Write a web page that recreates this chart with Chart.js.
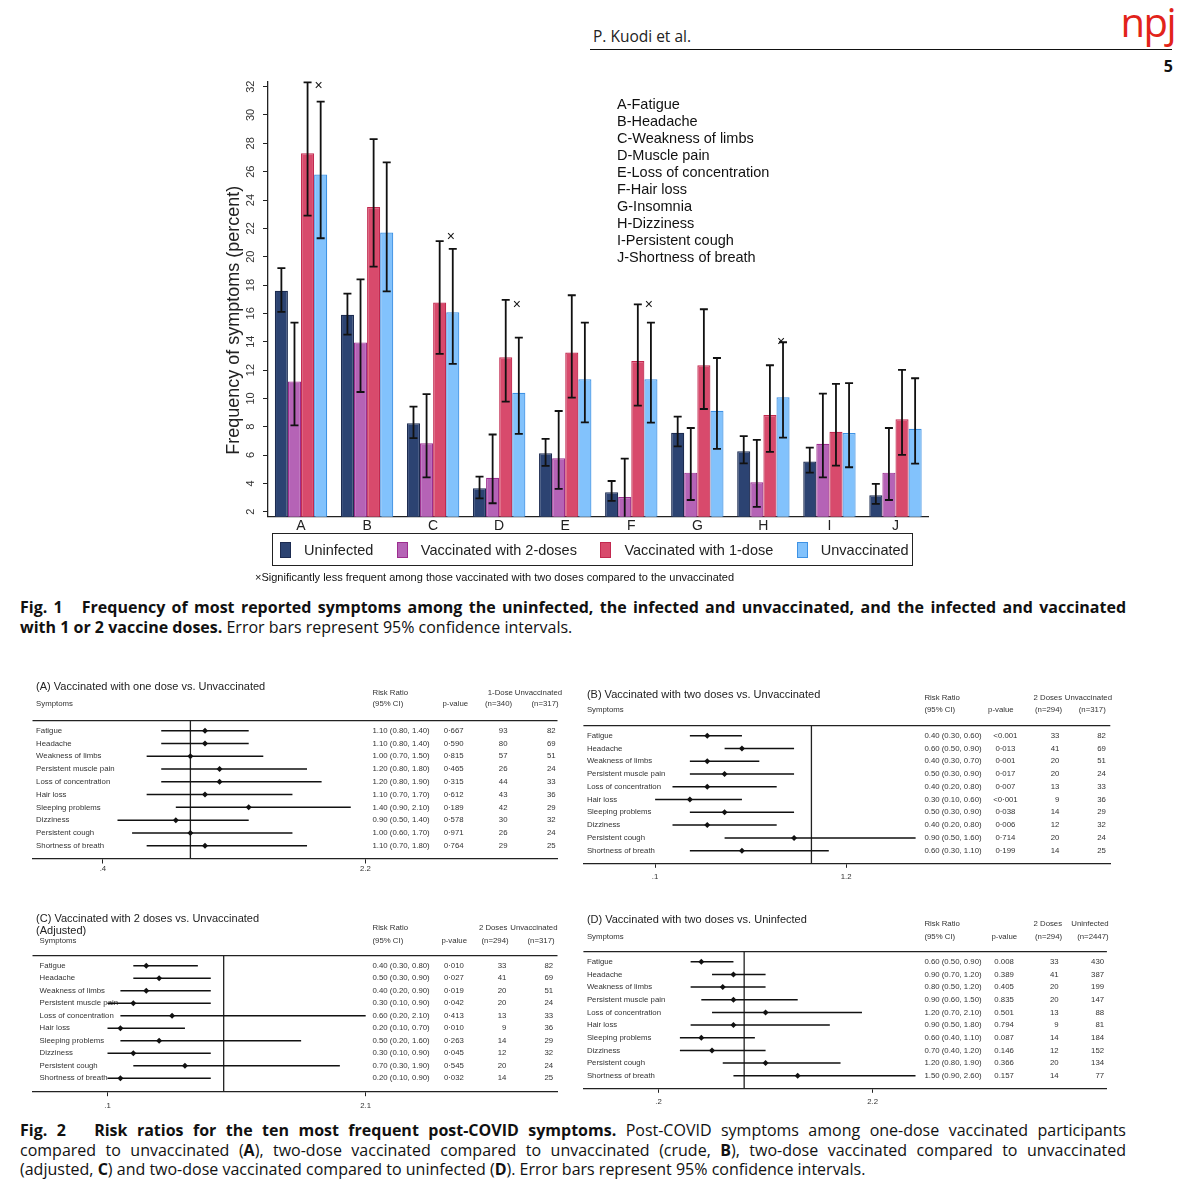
<!DOCTYPE html>
<html>
<head>
<meta charset="utf-8">
<title>Post-COVID symptoms by vaccination status</title>
<script src="https://cdn.jsdelivr.net/npm/chart.js@4.4.1/dist/chart.umd.min.js"></script>
<style>
  html, body { margin: 0; padding: 0; background: #fff; }
  body { position: relative; width: 1200px; height: 1194px; overflow: hidden;
         font-family: "Liberation Sans", Arial, sans-serif; color: #111; }
  .abs, canvas { position: absolute; }
  .running { left: 593px; top: 25px; font: 15.5px "Open Sans", sans-serif; color: #222; }
  .rule { left: 590px; top: 49px; width: 582px; border-top: 1.6px solid #111; }
  .page { left: 1100px; width: 73px; text-align: right; top: 55px; font: bold 16px "Open Sans", sans-serif; }
  .npj { left: 1080px; width: 95px; text-align: right; top: -6px; font: 40px "Open Sans", sans-serif; color: #e2231a; letter-spacing: -1.5px; }
  .key { left: 617px; top: 95.5px; font-size: 14.5px; line-height: 17px; color: #111; }
  .legend { left: 272px; top: 533px; width: 632px; height: 31px; padding-left: 7px; border: 1.3px solid #222;
            display: flex; align-items: center; font-size: 14.5px; color: #222; }
  .legend .item { display: flex; align-items: center; margin-right: 23.5px; white-space: nowrap; }
  .legend .sw { display: inline-block; width: 9px; height: 14px; border: 1px solid; margin-right: 13px; }
  .note { left: 255px; top: 571px; font-size: 11px; color: #111; white-space: nowrap; }
  .cap { left: 20px; width: 1106px; font-family: "Open Sans", sans-serif; font-size: 16px; color: #111; }
  .cap div { height: 19.5px; line-height: 19.5px; white-space: nowrap; text-align: justify; text-align-last: justify; }
  .cap div.last { text-align-last: left; }
  .cap b { font-weight: 700; }
</style>
</head>
<body>
<div class="abs running">P. Kuodi et al.</div>
<div class="abs rule"></div>
<div class="abs npj">npj</div>
<div class="abs page">5</div>

<canvas id="fig1"></canvas>
<div class="abs key" id="key"></div>
<div class="abs legend" id="legend"></div>
<div class="abs note">×Significantly less frequent among those vaccinated with two doses compared to the unvaccinated</div>

<div class="abs cap" style="top:598px">
  <div><b>Fig. 1&nbsp;&nbsp; Frequency of most reported symptoms among the uninfected, the infected and unvaccinated, and the infected and vaccinated</b></div>
  <div class="last"><b>with 1 or 2 vaccine doses.</b> Error bars represent 95% confidence intervals.</div>
</div>

<canvas id="fa"></canvas>
<canvas id="fb"></canvas>
<canvas id="fc"></canvas>
<canvas id="fd"></canvas>

<div class="abs cap" style="top:1121px">
  <div><b>Fig. 2&nbsp;&nbsp; Risk ratios for the ten most frequent post-COVID symptoms.</b> Post-COVID symptoms among one-dose vaccinated participants</div>
  <div>compared to unvaccinated (<b>A</b>), two-dose vaccinated compared to unvaccinated (crude, <b>B</b>), two-dose vaccinated compared to unvaccinated</div>
  <div class="last">(adjusted, <b>C</b>) and two-dose vaccinated compared to uninfected (<b>D</b>). Error bars represent 95% confidence intervals.</div>
</div>

<script>
// ---------- Fig. 1 data (percent, with 95% CI) ----------
const groups = ['A', 'B', 'C', 'D', 'E', 'F', 'G', 'H', 'I', 'J'];
const keyNames = ['Fatigue', 'Headache', 'Weakness of limbs', 'Muscle pain', 'Loss of concentration',
                  'Hair loss', 'Insomnia', 'Dizziness', 'Persistent cough', 'Shortness of breath'];
const seriesNames = ['Uninfected', 'Vaccinated with 2-doses', 'Vaccinated with 1-dose', 'Unvaccinated'];

const uninfected   = [17.6, 15.9, 8.25, 3.66, 6.13, 3.37, 7.58, 6.27, 5.54, 3.16];
const uninfectedLo = [16.1, 14.5, 7.2, 2.95, 5.23, 2.76, 6.62, 5.42, 4.76, 2.55];
const uninfectedHi = [19.2, 17.4, 9.42, 4.48, 7.14, 4.17, 8.71, 7.33, 6.52, 3.96];

const vacc2   = [11.2, 13.95, 6.83, 4.4, 5.77, 3.04, 4.76, 4.08, 6.8, 4.76];
const vacc2Lo = [8.1, 10.45, 4.43, 2.6, 3.61, 1.62, 2.83, 2.34, 4.43, 2.83];
const vacc2Hi = [15.35, 18.4, 10.3, 7.45, 9.11, 5.75, 7.91, 7.07, 10.33, 7.91];

const vacc1   = [27.3, 23.5, 16.76, 12.9, 13.23, 12.64, 12.34, 8.83, 7.65, 8.53];
const vacc1Lo = [22.9, 19.3, 13.14, 9.77, 10.05, 9.49, 9.25, 6.22, 5.25, 6.01];
const vacc1Hi = [32.3, 28.3, 21.1, 16.95, 17.28, 16.64, 16.29, 12.34, 11.02, 12.01];

const unvacc   = [25.8, 21.7, 16.08, 10.4, 11.35, 11.35, 9.13, 10.08, 7.56, 7.86];
const unvaccLo = [21.3, 17.55, 12.43, 7.49, 8.31, 8.29, 6.43, 7.23, 5.14, 5.4];
const unvaccHi = [30.95, 26.65, 20.55, 14.29, 15.35, 15.35, 12.85, 13.96, 11.07, 11.42];

// height of the "x" marks (two doses significantly lower than unvaccinated)
const crossAt = [32.05, null, 21.35, 16.6, null, 16.55, null, 13.98, null, null];
const yTicks = [2, 4, 6, 8, 10, 12, 14, 16, 18, 20, 22, 24, 26, 28, 30, 32];

// ---------- Fig. 2 data (risk ratios) ----------
const symptoms = ['Fatigue', 'Headache', 'Weakness of limbs', 'Persistent muscle pain', 'Loss of concentration',
                  'Hair loss', 'Sleeping problems', 'Dizziness', 'Persistent cough', 'Shortness of breath'];

const rrA = [1.1, 1.1, 1.0, 1.2, 1.2, 1.1, 1.4, 0.9, 1.0, 1.1];
const loA = [0.8, 0.8, 0.7, 0.8, 0.8, 0.7, 0.9, 0.5, 0.6, 0.7];
const hiA = [1.4, 1.4, 1.5, 1.8, 1.9, 1.7, 2.1, 1.4, 1.7, 1.8];
const pA  = ['0·667', '0·590', '0·815', '0·465', '0·315', '0·612', '0·189', '0·578', '0·971', '0·764'];

const rrB = [0.4, 0.6, 0.4, 0.5, 0.4, 0.3, 0.5, 0.4, 0.9, 0.6];
const loB = [0.3, 0.5, 0.3, 0.3, 0.2, 0.1, 0.3, 0.2, 0.5, 0.3];
const hiB = [0.6, 0.9, 0.7, 0.9, 0.8, 0.6, 0.9, 0.8, 1.6, 1.1];
const pB  = ['<0.001', '0·013', '0·001', '0·017', '0·007', '<0·001', '0·038', '0·006', '0·714', '0·199'];

const rrC = [0.4, 0.5, 0.4, 0.3, 0.6, 0.2, 0.5, 0.3, 0.7, 0.2];
const loC = [0.3, 0.3, 0.2, 0.1, 0.2, 0.1, 0.2, 0.1, 0.3, 0.1];
const hiC = [0.8, 0.9, 0.9, 0.9, 2.1, 0.7, 1.6, 0.9, 1.9, 0.9];
const pC  = ['0·010', '0·027', '0·019', '0·042', '0·413', '0·010', '0·263', '0·045', '0·545', '0·032'];

const rrD = [0.6, 0.9, 0.8, 0.9, 1.2, 0.9, 0.6, 0.7, 1.2, 1.5];
const loD = [0.5, 0.7, 0.5, 0.6, 0.7, 0.5, 0.4, 0.4, 0.8, 0.9];
const hiD = [0.9, 1.2, 1.2, 1.5, 2.1, 1.8, 1.1, 1.2, 1.9, 2.6];
const pD  = ['0.008', '0.389', '0.405', '0.835', '0.501', '0.794', '0.087', '0.146', '0.366', '0.157'];

const dose1N = [93, 80, 57, 26, 44, 43, 42, 30, 26, 29];
const dose2N = [33, 41, 20, 20, 13, 9, 14, 12, 20, 14];
const unvaccN = [82, 69, 51, 24, 33, 36, 29, 32, 24, 25];
const uninfN = [430, 387, 199, 147, 88, 81, 184, 152, 134, 77];

const ticksA = [0.4, 2.2];
const ticksB = [0.1, 1.2];
const ticksC = [0.1, 2.1];
const ticksD = [0.2, 2.2];

Chart.defaults.font.family = '"Liberation Sans", Arial, sans-serif';
Chart.defaults.color = '#222';

document.getElementById('key').innerHTML =
  groups.map((g, i) => g + '-' + keyNames[i]).join('<br>');

// ---------- Fig. 1 ----------
const barFill = ['#2c4372', '#b563b6', '#d84a6c', '#82c2fc'];
const barLine = ['#1c2b50', '#9c2d8e', '#c2294f', '#3e92e4'];
const values = [uninfected, vacc2, vacc1, unvacc];
const lows = [uninfectedLo, vacc2Lo, vacc1Lo, unvaccLo];
const highs = [uninfectedHi, vacc2Hi, vacc1Hi, unvaccHi];

// legend in a framed box under the plot, as in the Stata original
document.getElementById('legend').innerHTML = seriesNames.map((name, k) =>
  '<span class="item"><span class="sw" style="background:' + barFill[k] + ';border-color:' + barLine[k] + '"></span>' + name + '</span>'
).join('');

const errorBars = {
  id: 'errorBars',
  afterDatasetsDraw(chart) {
    const { ctx, chartArea: a, scales: { y } } = chart;
    ctx.save();
    ctx.strokeStyle = '#111';
    ctx.lineWidth = 1.8;
    chart.data.datasets.forEach((ds, k) => {
      chart.getDatasetMeta(k).data.forEach((bar, i) => {
        const top = y.getPixelForValue(highs[k][i]);
        const bot = y.getPixelForValue(lows[k][i]);
        ctx.beginPath();
        ctx.moveTo(bar.x, top);
        ctx.lineTo(bar.x, Math.min(bot, a.bottom));
        ctx.moveTo(bar.x - 4, top);
        ctx.lineTo(bar.x + 4, top);
        if (bot <= a.bottom) {
          ctx.moveTo(bar.x - 4, bot);
          ctx.lineTo(bar.x + 4, bot);
        }
        ctx.stroke();
      });
    });
    // x marks over the unvaccinated bars
    const blue = chart.getDatasetMeta(3).data;
    ctx.fillStyle = '#111';
    ctx.font = '14px "Liberation Sans", Arial, sans-serif';
    ctx.textAlign = 'center';
    ctx.textBaseline = 'middle';
    crossAt.forEach((v, i) => {
      if (v !== null) ctx.fillText('×', blue[i].x - 2, y.getPixelForValue(v));
    });
    ctx.restore();
  },
  afterDraw(chart) {
    const { ctx, chartArea: a } = chart;
    ctx.save();
    // axis title, drawn by hand so it sits where Stata put it
    ctx.fillStyle = '#222';
    ctx.font = '18px "Liberation Sans", Arial, sans-serif';
    ctx.textAlign = 'center';
    ctx.textBaseline = 'middle';
    ctx.translate(a.left - 34, (a.top + a.bottom) / 2 + 21);
    ctx.rotate(-Math.PI / 2);
    ctx.fillText('Frequency of symptoms (percent)', 0, 0);
    ctx.restore();
  }
};

const c1 = document.getElementById('fig1');
c1.width = 740; c1.height = 530;
c1.style.left = '200px'; c1.style.top = '60px';

new Chart(c1, {
  type: 'bar',
  data: {
    labels: groups,
    datasets: seriesNames.map((name, k) => ({
      label: name,
      data: values[k],
      backgroundColor: barFill[k],
      borderColor: barLine[k],
      borderWidth: 1.2,
      categoryPercentage: 0.793,
      barPercentage: 1
    }))
  },
  options: {
    responsive: false,
    animation: false,
    events: [],
    layout: { padding: { left: 0, right: 11.5, top: 21.7, bottom: 53.3 } },
    plugins: {
      tooltip: { enabled: false },
      legend: { display: false }
    },
    scales: {
      x: {
        grid: { display: false, drawTicks: false },
        border: { color: '#222', width: 1.3 },
        ticks: { color: '#222', font: { size: 14 }, padding: 1 },
        afterFit: s => { s.height = 20; }
      },
      y: {
        min: 1.65,
        max: 32.35,
        afterBuildTicks: s => { s.ticks = yTicks.map(v => ({ value: v })); },
        afterFit: s => { s.width = 68; },
        grid: { drawOnChartArea: false, tickLength: 5, color: '#222', lineWidth: 1 },
        border: { color: '#222', width: 1.3 },
        ticks: { minRotation: 90, maxRotation: 90, crossAlign: 'center', padding: 6, color: '#333', font: { size: 11 } }
      }
    }
  },
  plugins: [errorBars]
});

// ---------- Fig. 2 forest plots ----------
// page geometry of each panel (canvas box, rules, text columns)
const panels = {
  fa: {
    title: ['(A) Vaccinated with one dose vs. Unvaccinated'],
    rr: rrA, lo: loA, hi: hiA, p: pA, n1: dose1N, n2: unvaccN,
    h1: ['1-Dose', '(n=340)'], h2: ['Unvaccinated', '(n=317)'], ticks: ticksA, xMin: -0.083, xMax: 3.518,
    box: { left: 26, top: 672, width: 545, height: 213, ruleL: 32.5, ruleR: 557.5, ruleT: 720.7, ruleB: 859, yMin: -0.78, yMax: 10.04, labelPad: 1 },
    col: { titleX: 36.1, titleY: [686.7], hdrY: [692.7, 704.3], rowX: 36.1, rrX: 372.5, pHdrX: 442.5, pX: 453.6,
           h1R: [512.9, 512.1], h2R: [562.1, 558.6], n1R: 507.5, n2R: 555.7 }
  },
  fb: {
    title: ['(B) Vaccinated with two doses vs. Unvaccinated'],
    rr: rrB, lo: loB, hi: hiB, p: pB, n1: dose2N, n2: unvaccN,
    h1: ['2 Doses', '(n=294)'], h2: ['Unvaccinated', '(n=317)'], ticks: ticksB, xMin: -0.313, xMax: 2.721,
    box: { left: 578, top: 682, width: 540, height: 208, ruleL: 583.4, ruleR: 1110.3, ruleT: 725.7, ruleB: 863.3, yMin: -0.78, yMax: 9.99, labelPad: 4 },
    col: { titleX: 586.9, titleY: [695], hdrY: [698.3, 710], rowX: 586.9, rrX: 924.4, pHdrX: 988.1, pX: 1005.4,
           h1R: [1062.1, 1062.1], h2R: [1112, 1105.8], n1R: 1059.3, n2R: 1105.8 }
  },
  fc: {
    title: ['(C) Vaccinated with 2 doses vs. Unvaccinated', '(Adjusted)'],
    rr: rrC, lo: loC, hi: hiC, p: pC, n1: dose2N, n2: unvaccN,
    h1: ['2 Doses', '(n=294)'], h2: ['Unvaccinated', '(n=317)'], ticks: ticksC, xMin: -0.481, xMax: 3.586,
    box: { left: 26, top: 906, width: 545, height: 212, ruleL: 32.5, ruleR: 557.5, ruleT: 955.7, ruleB: 1091.7, yMin: -0.8, yMax: 10.07, labelPad: 5 },
    col: { titleX: 36.1, titleY: [919.3, 930.7], hdrY: [928.3, 941], rowX: 39.6, rrX: 372.5, pHdrX: 441.4, pX: 453.9,
           h1R: [507.5, 508.6], h2R: [557.5, 554.6], n1R: 506.4, n2R: 553.2 }
  },
  fd: {
    title: ['(D) Vaccinated with two doses vs. Uninfected'],
    rr: rrD, lo: loD, hi: hiD, p: pD, n1: dose2N, n2: uninfN,
    h1: ['2 Doses', '(n=294)'], h2: ['Uninfected', '(n=2447)'], ticks: ticksD, xMin: -0.501, xMax: 4.387,
    box: { left: 578, top: 906, width: 540, height: 208, ruleL: 583.4, ruleR: 1106.9, ruleT: 951.7, ruleB: 1088.3, yMin: -0.79, yMax: 9.99, labelPad: 4 },
    col: { titleX: 586.9, titleY: [920], hdrY: [924.3, 937.3], rowX: 586.9, rrX: 924.4, pHdrX: 991.5, pX: 1004.1,
           h1R: [1062.1, 1062.1], h2R: [1108.6, 1108.6], n1R: 1058.7, n2R: 1104.1 }
  }
};

const small = '7.8px "Liberation Sans", Arial, sans-serif';

const forestDecor = {
  id: 'forestDecor',
  beforeDatasetsDraw(chart) {
    const p = panels[chart.canvas.id];
    const b = p.box, c = p.col;
    const { ctx, chartArea: a, scales: { x, y } } = chart;
    const X = v => v - b.left, Y = v => v - b.top;
    ctx.save();
    ctx.textBaseline = 'middle';

    ctx.fillStyle = '#222';
    ctx.font = '11px "Liberation Sans", Arial, sans-serif';
    p.title.forEach((t, k) => ctx.fillText(t, X(c.titleX), Y(c.titleY[k])));

    ctx.fillStyle = '#333';
    ctx.font = small;
    ctx.textAlign = 'left';
    ctx.fillText('Symptoms', X(c.rowX), Y(c.hdrY[1]));
    ctx.fillText('Risk Ratio', X(c.rrX), Y(c.hdrY[0]));
    ctx.fillText('(95% CI)', X(c.rrX), Y(c.hdrY[1]));
    ctx.fillText('p-value', X(c.pHdrX), Y(c.hdrY[1]));
    ctx.textAlign = 'right';
    p.h1.forEach((t, k) => ctx.fillText(t, X(c.h1R[k]), Y(c.hdrY[k])));
    p.h2.forEach((t, k) => ctx.fillText(t, X(c.h2R[k]), Y(c.hdrY[k])));

    symptoms.forEach((s, i) => {
      const yy = y.getPixelForValue(i);
      ctx.textAlign = 'left';
      ctx.fillText(s, X(c.rowX), yy);
      ctx.fillText(p.rr[i].toFixed(2) + ' (' + p.lo[i].toFixed(2) + ', ' + p.hi[i].toFixed(2) + ')', X(c.rrX), yy);
      ctx.textAlign = 'center';
      ctx.fillText(p.p[i], X(c.pX), yy);
      ctx.textAlign = 'right';
      ctx.fillText(String(p.n1[i]), X(c.n1R), yy);
      ctx.fillText(String(p.n2[i]), X(c.n2R), yy);
    });

    ctx.strokeStyle = '#222';
    ctx.lineWidth = 1.3;
    ctx.beginPath();
    ctx.moveTo(a.left, a.top);
    ctx.lineTo(a.right, a.top);
    const x1 = x.getPixelForValue(1);
    ctx.moveTo(x1, a.top);
    ctx.lineTo(x1, a.bottom);
    ctx.stroke();

    ctx.strokeStyle = '#111';
    ctx.lineWidth = 1.5;
    ctx.beginPath();
    p.lo.forEach((lo, i) => {
      const yy = y.getPixelForValue(i);
      ctx.moveTo(x.getPixelForValue(lo), yy);
      ctx.lineTo(x.getPixelForValue(p.hi[i]), yy);
    });
    ctx.stroke();
    ctx.restore();
  }
};

function forestChart(id) {
  const p = panels[id], b = p.box;
  const canvas = document.getElementById(id);
  canvas.width = b.width; canvas.height = b.height;
  canvas.style.left = b.left + 'px'; canvas.style.top = b.top + 'px';
  return new Chart(canvas, {
    type: 'scatter',
    data: {
      datasets: [{
        data: p.rr.map((v, i) => ({ x: v, y: i })),
        pointStyle: 'rectRot',
        pointRadius: 3,
        backgroundColor: '#111',
        borderColor: '#111',
        borderWidth: 0
      }]
    },
    options: {
      responsive: false,
      animation: false,
      events: [],
      layout: {
        padding: {
          left: b.ruleL - b.left,
          right: b.left + b.width - b.ruleR,
          top: b.ruleT - b.top,
          bottom: b.top + b.height - b.ruleB - 20
        }
      },
      plugins: { legend: { display: false }, tooltip: { enabled: false } },
      scales: {
        x: {
          type: 'linear',
          min: p.xMin,
          max: p.xMax,
          afterBuildTicks: s => { s.ticks = p.ticks.map(v => ({ value: v })); },
          afterFit: s => { s.height = 20; },
          grid: { drawOnChartArea: false, tickLength: 4.5, color: '#222', lineWidth: 1 },
          border: { color: '#222', width: 1.3 },
          ticks: { padding: b.labelPad, color: '#333', font: { size: 7.8 }, callback: v => String(v).replace(/^0\./, '.') }
        },
        y: { display: false, reverse: true, min: b.yMin, max: b.yMax }
      }
    },
    plugins: [forestDecor]
  });
}

['fa', 'fb', 'fc', 'fd'].forEach(forestChart);
</script>
</body>
</html>
